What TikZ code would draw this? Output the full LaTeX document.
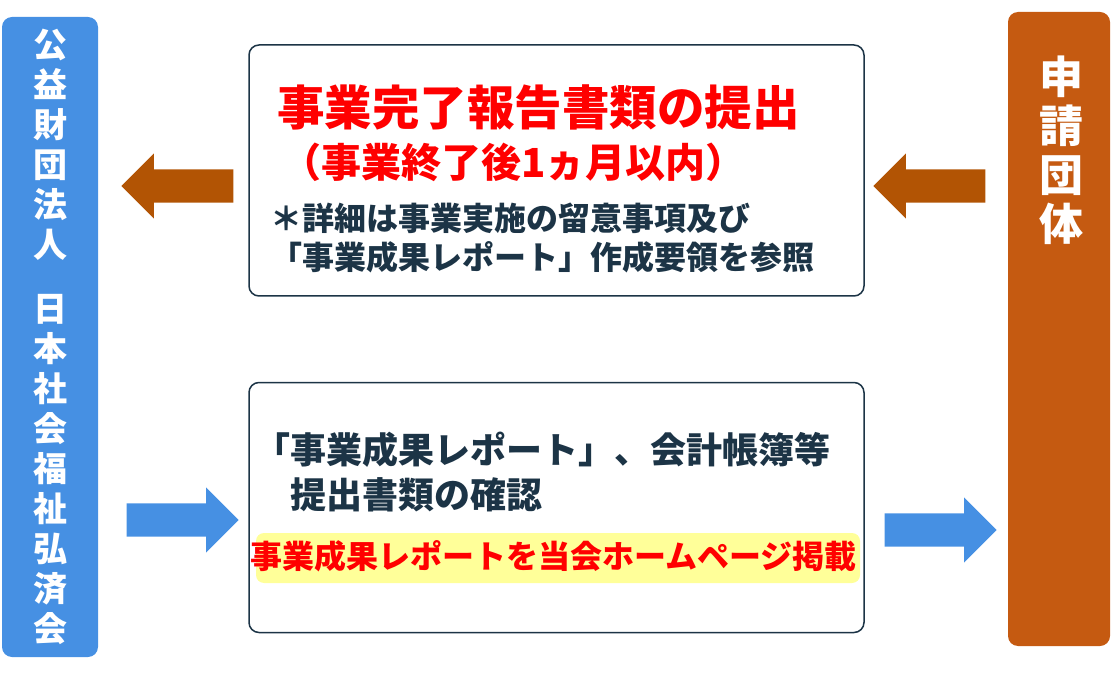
\documentclass[tikz,border=0pt]{standalone}
\usepackage{fontspec}
\setmainfont{Noto Sans CJK JP}
\usetikzlibrary{positioning, shapes.arrows}
\definecolor{barblue}{RGB}{70,144,227}
\definecolor{barorange}{RGB}{197,90,17}
\definecolor{arrowbrown}{RGB}{178,84,4}
\definecolor{textnavy}{RGB}{28,52,70}
\definecolor{markyellow}{RGB}{255,255,153}

\begin{document}
\begin{tikzpicture}[x=1pt, y=-1pt,
		sidebar/.style={rectangle,rounded corners=10pt,inner sep=0pt},
		infobox/.style={rectangle,rounded corners=10pt,draw=textnavy,line width=1.5pt,fill=white,inner sep=0pt,minimum width=615pt},
		blockarrow/.style={single arrow,inner xsep=0pt,inner ysep=16.5pt,minimum height=112pt,minimum width=65pt,single arrow head extend=16pt,anchor=tip},
		textline/.style={anchor=west,inner sep=0pt,text=textnavy,font=\bfseries\fontsize{32}{36}\selectfont},
		bartext/.style={text=white,align=center,inner sep=0pt}
		]
		\useasboundingbox (0,0) rectangle (1112,679);
		
		\node[sidebar, fill=barblue, minimum width=96pt, minimum height=640pt](Zaidan) at (50,337){};
		\node[sidebar, fill=barorange, minimum width=102pt, minimum height=634pt](Dantai) at (1059,329){};
		\node[bartext, font=\bfseries\fontsize{34}{40}\selectfont] at (Zaidan.center)
		{公\\益\\財\\団\\法\\人\\[24pt]日\\本\\社\\会\\福\\祉\\弘\\済\\会};
		\node[bartext, font=\bfseries\fontsize{44}{49}\selectfont, yshift=-2pt] at (1061,148)
		{申\\請\\団\\体};
		
		\node[infobox, minimum height=251pt](Houkoku) at (556.5,170.5){};
		\node[infobox, minimum height=250pt](Kakunin) at (556.5,507.5){};
		\node[rectangle, rounded corners=8pt, fill=markyellow, minimum width=604pt, minimum height=50pt](Keisai) at (558,558){};
		
		\node[textline, text=red, font=\bfseries\fontsize{47.5}{50}\selectfont](T1) at (277,107){事業完了報告書類の提出};
		\node[textline, text=red, font=\bfseries\fontsize{40}{44}\selectfont](T2) at (281,162){（事業終了後1ヵ月以内）};
		\node[textline](T3) at (270,218){＊詳細は事業実施の留意事項及び};
		\node[textline](T4) at (270,257){「事業成果レポート」作成要領を参照};
		
		\node[textline, font=\bfseries\fontsize{36}{40}\selectfont](K1) at (254,450){「事業成果レポート」、会計帳簿等};
		\node[textline, font=\bfseries\fontsize{36}{40}\selectfont](K2) at (254,495){　提出書類の確認};
		\node[textline, text=red](K3) at (250,556){事業成果レポートを当会ホームページ掲載};
		
		\node[blockarrow, fill=arrowbrown, shape border rotate=180](A1) at (121,186){};
		\node[blockarrow, fill=arrowbrown, shape border rotate=180](A2) at (873,186){};
		\node[blockarrow, fill=barblue](A3) at (239,520){};
		\node[blockarrow, fill=barblue](A4) at (997,530){};
		
	\end{tikzpicture}
\end{document}
